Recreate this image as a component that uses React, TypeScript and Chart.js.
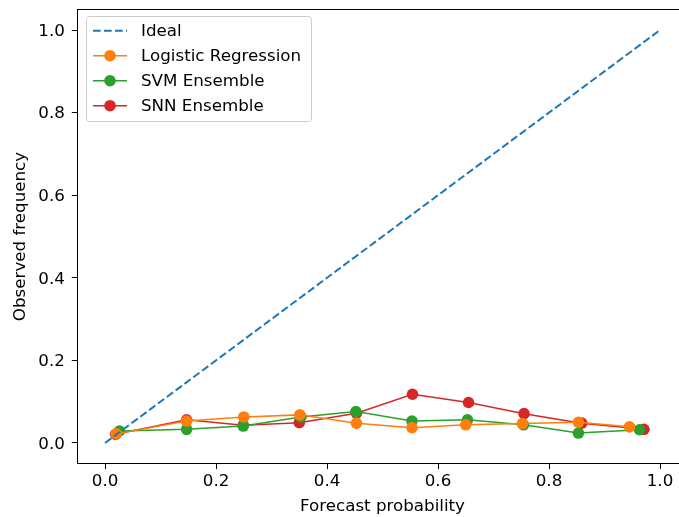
import React, { useEffect, useRef } from "react";
import { Chart, registerables } from "chart.js";

Chart.register(...registerables);

const idealX = [0, 1];
const idealY = [0, 1];

const lrX = [0.02, 0.147, 0.25, 0.351, 0.453, 0.553, 0.65, 0.752, 0.853, 0.945];
const lrY = [0.022, 0.053, 0.063, 0.068, 0.048, 0.037, 0.044, 0.047, 0.05, 0.039];

const svmX = [0.026, 0.147, 0.249, 0.353, 0.452, 0.553, 0.653, 0.754, 0.853, 0.963];
const svmY = [0.029, 0.033, 0.041, 0.063, 0.076, 0.053, 0.056, 0.044, 0.024, 0.032];

const snnX = [0.019, 0.147, 0.249, 0.35, 0.453, 0.554, 0.655, 0.755, 0.859, 0.971];
const snnY = [0.021, 0.056, 0.043, 0.049, 0.072, 0.118, 0.098, 0.071, 0.048, 0.033];

const tickValues = [0, 0.2, 0.4, 0.6, 0.8, 1.0];

const seriesNames = ["Ideal", "Logistic Regression", "SVM Ensemble", "SNN Ensemble"];
const seriesColors = ["#1f77b4", "#ff7f0e", "#2ca02c", "#d62728"];

const FONT = "DejaVu Sans";
const FS = 16.7;
const DASH = [7.7, 3.3];
const LW = 1.5;
const MR = 5.8;

const zip = (xs: number[], ys: number[]) => xs.map((x, i) => ({ x, y: ys[i] }));

const framePlugin = {
  id: "frame",
  afterDraw(chart: any) {
    const { ctx, chartArea } = chart;
    ctx.save();
    ctx.strokeStyle = "#000";
    ctx.lineWidth = 1;
    ctx.strokeRect(
      Math.round(chartArea.left) + 0.5,
      Math.round(chartArea.top) + 0.5,
      Math.round(chartArea.right - chartArea.left),
      Math.round(chartArea.bottom - chartArea.top)
    );
    // legend
    const bx = 86.5, by = 16.5, bw = 225, bh = 105, r = 3;
    ctx.beginPath();
    ctx.moveTo(bx + r, by);
    ctx.lineTo(bx + bw - r, by);
    ctx.quadraticCurveTo(bx + bw, by, bx + bw, by + r);
    ctx.lineTo(bx + bw, by + bh - r);
    ctx.quadraticCurveTo(bx + bw, by + bh, bx + bw - r, by + bh);
    ctx.lineTo(bx + r, by + bh);
    ctx.quadraticCurveTo(bx, by + bh, bx, by + bh - r);
    ctx.lineTo(bx, by + r);
    ctx.quadraticCurveTo(bx, by, bx + r, by);
    ctx.closePath();
    ctx.fillStyle = "rgba(255,255,255,0.8)";
    ctx.fill();
    ctx.strokeStyle = "#cccccc";
    ctx.stroke();
    const rowY = [30.7, 55.7, 80.7, 105.7];
    ctx.font = `${FS}px "${FONT}"`;
    ctx.textBaseline = "middle";
    ctx.textAlign = "left";
    seriesNames.forEach((name, i) => {
      const y = rowY[i];
      ctx.strokeStyle = seriesColors[i];
      ctx.lineWidth = i === 0 ? 2 : LW;
      ctx.lineCap = "butt";
      ctx.setLineDash(i === 0 ? DASH : []);
      ctx.beginPath();
      ctx.moveTo(93, y);
      ctx.lineTo(127, y);
      ctx.stroke();
      ctx.setLineDash([]);
      if (i > 0) {
        ctx.beginPath();
        ctx.arc(110, y, MR, 0, Math.PI * 2);
        ctx.fillStyle = seriesColors[i];
        ctx.fill();
      }
      ctx.fillStyle = "#000";
      ctx.fillText(name, 141, y + 1);
    });
    ctx.restore();
  },
};

export default function App() {
  const ref = useRef<HTMLCanvasElement>(null);
  useEffect(() => {
    if (!ref.current) return;
    Chart.defaults.font.family = FONT;
    Chart.defaults.font.size = FS;
    Chart.defaults.color = "#000";
    const lineDs = (label: string, xs: number[], ys: number[], color: string) => ({
      label,
      data: zip(xs, ys),
      borderColor: color,
      backgroundColor: color,
      borderWidth: LW,
      pointRadius: MR,
      pointBorderWidth: 0,
      pointHoverRadius: MR,
      tension: 0,
    });
    const chart = new Chart(ref.current, {
      type: "line",
      data: {
        datasets: [
          {
            label: seriesNames[0],
            data: zip(idealX, idealY),
            borderColor: seriesColors[0],
            borderWidth: 2,
            borderDash: DASH,
            borderCapStyle: "butt",
            pointRadius: 0,
            tension: 0,
          },
          lineDs(seriesNames[1], lrX, lrY, seriesColors[1]),
          lineDs(seriesNames[2], svmX, svmY, seriesColors[2]),
          lineDs(seriesNames[3], snnX, snnY, seriesColors[3]),
        ],
      },
      options: {
        responsive: false,
        animation: false,
        events: [],
        layout: { padding: { top: 9.4, right: 12.25, left: 0, bottom: 0 } },
        plugins: { legend: { display: false }, tooltip: { enabled: false } },
        scales: {
          x: {
            type: "linear",
            min: -0.05,
            max: 1.05,
            afterFit: (s: any) => {
              s.height = 517 - 463.6;
              s.paddingLeft = 0;
              s.paddingRight = 0;
            },
            afterBuildTicks: (s: any) => {
              s.ticks = tickValues.map((v) => ({ value: v }));
            },
            ticks: {
              callback: (v: any) => Number(v).toFixed(1),
              padding: 3,
              maxRotation: 0,
              autoSkip: false,
              color: "#000",
              font: { size: FS, family: FONT },
            },
            grid: { display: true, drawOnChartArea: false, drawTicks: true, tickLength: 5.5, color: "#000" },
            border: { display: true, color: "#000", width: 1 },
            title: {
              display: true,
              text: "Forecast probability",
              color: "#000",
              font: { size: FS, family: FONT },
              padding: { top: 0, bottom: 0 },
            },
          },
          y: {
            type: "linear",
            min: -0.05,
            max: 1.05,
            afterFit: (s: any) => {
              s.width = 77.3;
              s.paddingTop = 0;
              s.paddingBottom = 0;
            },
            afterBuildTicks: (s: any) => {
              s.ticks = tickValues.map((v) => ({ value: v }));
            },
            ticks: {
              callback: (v: any) => Number(v).toFixed(1),
              padding: 7,
              labelOffset: 1.5,
              autoSkip: false,
              color: "#000",
              font: { size: FS, family: FONT },
            },
            grid: { display: true, drawOnChartArea: false, drawTicks: true, tickLength: 5.5, color: "#000" },
            border: { display: true, color: "#000", width: 1 },
            title: {
              display: true,
              text: "Observed frequency",
              color: "#000",
              font: { size: FS, family: FONT },
              padding: { top: 11, bottom: 0 },
            },
          },
        },
      },
      plugins: [framePlugin],
    } as any);
    return () => chart.destroy();
  }, []);
  return (
    <div
      style={{
        position: "absolute",
        left: 0,
        top: 0,
        width: 679,
        height: 517,
        overflow: "hidden",
        background: "#fff",
      }}
    >
      <canvas ref={ref} width={700} height={517} style={{ width: 700, height: 517, display: "block" }} />
    </div>
  );
}
